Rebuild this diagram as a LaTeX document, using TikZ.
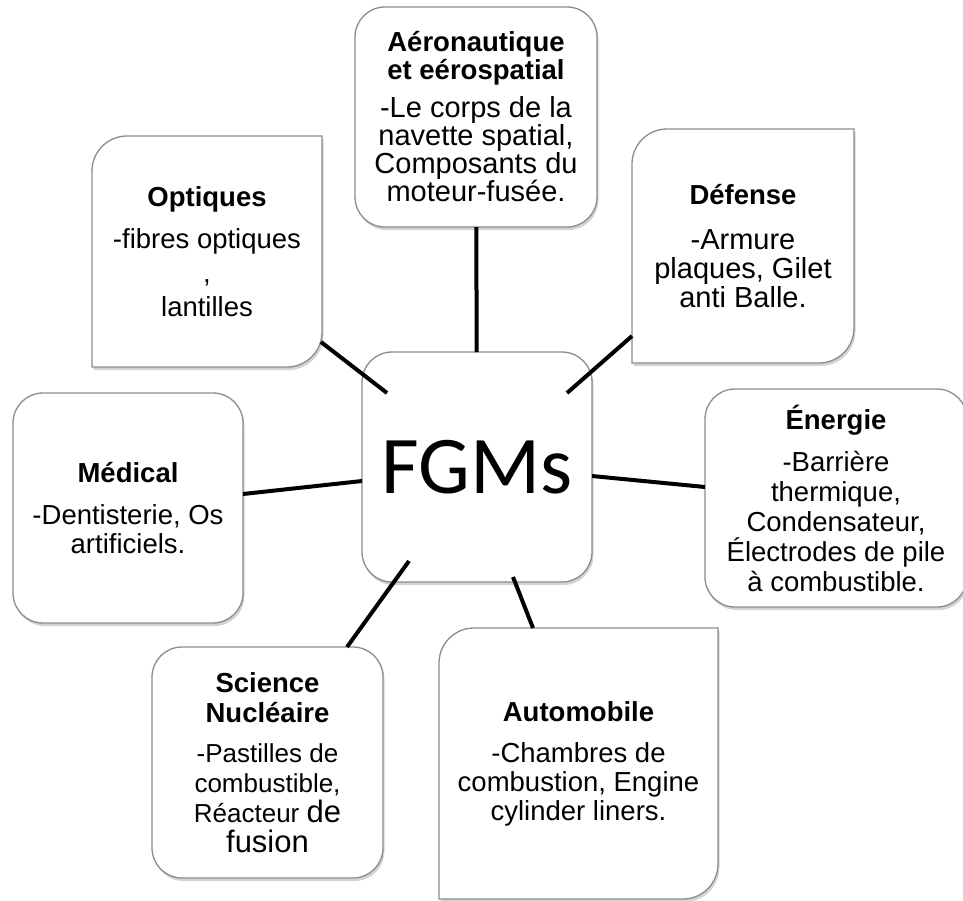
\documentclass[tikz,border=0pt]{standalone}
\usepackage{fontspec}
\setmainfont{Liberation Sans}
\newfontfamily\calibrifont{Carlito}
\usepackage{tikz}
\usetikzlibrary{backgrounds}
\usetikzlibrary{shadows}
\tikzstyle{appbox}=[align=center, inner sep=0pt, outer sep=0pt, font=\fontsize{27.5}{29}\selectfont]
\tikzstyle{boxframe}=[draw=gray!90, line width=1.3pt, fill=white, drop shadow={shadow xshift=1.5pt, shadow yshift=-3pt, opacity=0.35}]
\tikzstyle{spoke}=[line width=4pt, black]
\newcommand{\apptitle}[1]{\textbf{\fontsize{27.5}{29}\selectfont #1}}

\begin{document}
\begin{tikzpicture}[x=1pt,y=-1pt]
\useasboundingbox (0,0) rectangle (963,900);

% centre
\node[appbox, minimum width=230pt, minimum height=230pt, font=\calibrifont\fontsize{82}{90}\selectfont] (fgm) at (477,467) {FGMs};

% domains
\node[appbox, minimum width=230pt, minimum height=231pt] (opt) at (207,251.5)
  {\apptitle{Optiques}\\[13pt]-fibres optiques\\[5pt],\\[5pt]lantilles};
\node[appbox, minimum width=242pt, minimum height=220pt, font=\fontsize{29}{28}\selectfont] (aero) at (476,117)
  {\apptitle{Aéronautique}\\\apptitle{et eérospatial}\\[10pt]-Le corps de la\\navette spatial,\\Composants du\\moteur-fusée.};
\node[appbox, minimum width=222pt, minimum height=234pt, font=\fontsize{29}{29}\selectfont] (def) at (743,246)
  {\apptitle{Défense}\\[16pt]-Armure\\plaques, Gilet\\anti Balle.};
\node[appbox, minimum width=262pt, minimum height=218pt, font=\fontsize{27.5}{30}\selectfont] (ener) at (836,498)
  {\apptitle{Énergie}\\[12pt]-Barrière\\thermique,\\Condensateur,\\Électrodes de pile\\à combustible.};
\node[appbox, minimum width=230pt, minimum height=230pt] (med) at (128,508)
  {\apptitle{Médical}\\[13pt]-Dentisterie, Os\\artificiels.};
\node[appbox, minimum width=231pt, minimum height=231pt, font=\fontsize{26}{30}\selectfont] (sci) at (267.5,762.5)
  {\apptitle{Science}\\\apptitle{Nucléaire}\\[10pt]-Pastilles de\\combustible,\\Réacteur {\fontsize{31}{33}\selectfont de}\\{\fontsize{31}{33}\selectfont fusion}};
\node[appbox, minimum width=279pt, minimum height=271pt] (auto) at (578.5,763.5)
  {\apptitle{Automobile}\\[12pt]-Chambres de\\combustion, Engine\\cylinder liners.};

\begin{pgfonlayer}{background}
\foreach \n in {aero,ener,med,sci,fgm}
  \draw[boxframe, rounded corners=30pt] (\n.north west) rectangle (\n.south east);
\foreach \n in {opt,def,auto}
  \draw[boxframe] (\n.west) [rounded corners=35pt] -- (\n.north west) -- (\n.north)
    [sharp corners] -- (\n.north east) -- (\n.east)
    [rounded corners=35pt] -- (\n.south east) -- (\n.south)
    [sharp corners] -- (\n.south west) -- cycle;
\end{pgfonlayer}

% spokes
\draw[spoke] (aero) -- (fgm);
\draw[spoke] ([shift={(-1,-25)}]opt.south east) -- ([shift={(-90,-74)}]fgm.center);
\draw[spoke] ([shift={(0,-27)}]def.south west) -- ([shift={(90,-74)}]fgm.center);
\draw[spoke] ([shift={(0,-11)}]ener.west) -- ([shift={(0,9)}]fgm.east);
\draw[spoke] ([shift={(0,-14)}]med.east) -- ([shift={(0,14)}]fgm.west);
\draw[spoke] ([shift={(-36,0)}]sci.north east) -- ([shift={(-68,94)}]fgm.center);
\draw[spoke] ([shift={(94,0)}]auto.north west) -- ([shift={(36,110)}]fgm.center);

\end{tikzpicture}
\end{document}
